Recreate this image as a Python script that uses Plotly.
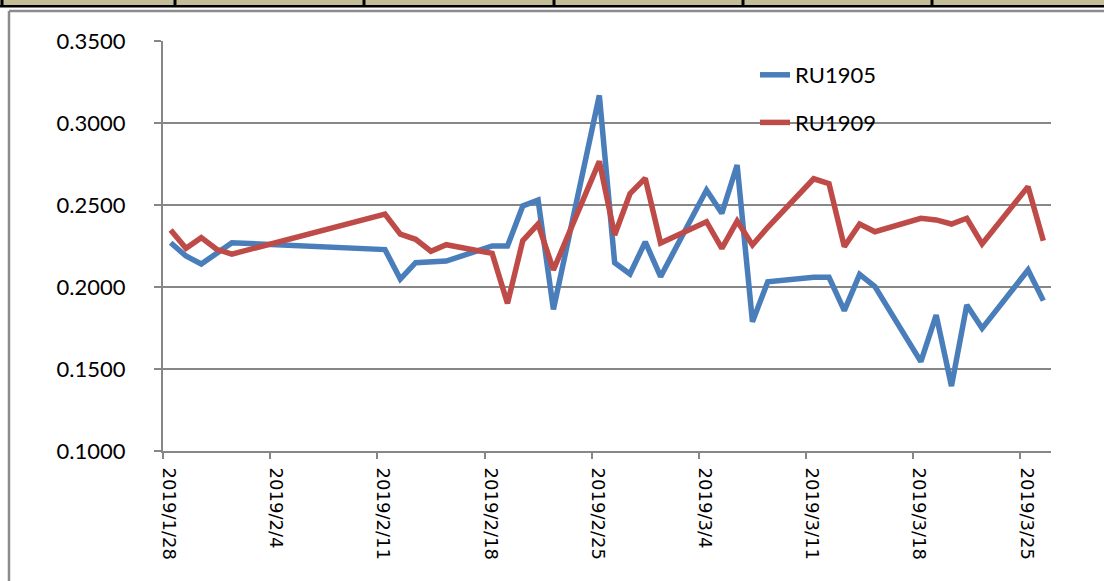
import pandas as pd
import plotly.graph_objects as go

# ---------------- data ----------------
dates = [
    "2019-01-28", "2019-01-29", "2019-01-30", "2019-01-31", "2019-02-01",
    "2019-02-11", "2019-02-12", "2019-02-13", "2019-02-14", "2019-02-15",
    "2019-02-18", "2019-02-19", "2019-02-20", "2019-02-21", "2019-02-22",
    "2019-02-25", "2019-02-26", "2019-02-27", "2019-02-28", "2019-03-01",
    "2019-03-04", "2019-03-05", "2019-03-06", "2019-03-07", "2019-03-08",
    "2019-03-11", "2019-03-12", "2019-03-13", "2019-03-14", "2019-03-15",
    "2019-03-18", "2019-03-19", "2019-03-20", "2019-03-21", "2019-03-22",
    "2019-03-25", "2019-03-26",
]
ru1905 = [
    0.2270, 0.2189, 0.2140, 0.2201, 0.2270,
    0.2228, 0.2048, 0.2148, 0.2152, 0.2158,
    0.2250, 0.2250, 0.2494, 0.2530, 0.1864,
    0.3168, 0.2148, 0.2079, 0.2275, 0.2063,
    0.2591, 0.2449, 0.2744, 0.1788, 0.2032,
    0.2059, 0.2059, 0.1856, 0.2077, 0.2002,
    0.1545, 0.1829, 0.1396, 0.1890, 0.1748,
    0.2104, 0.1917,
]
ru1909 = [
    0.2348, 0.2236, 0.2301, 0.2230, 0.2201,
    0.2444, 0.2322, 0.2291, 0.2218, 0.2258,
    0.2205, 0.1900, 0.2283, 0.2384, 0.2104,
    0.2766, 0.2317, 0.2569, 0.2663, 0.2268,
    0.2398, 0.2236, 0.2402, 0.2256, 0.2364,
    0.2660, 0.2630, 0.2246, 0.2384, 0.2337,
    0.2419, 0.2409, 0.2384, 0.2419, 0.2262,
    0.2612, 0.2282,
]
series_names = ["RU1905", "RU1909"]
series_colors = ["#4A7EBB", "#BE4B48"]

# Excel date axis places points in the middle of each day
x_vals = pd.to_datetime(dates) + pd.Timedelta(hours=12)

# ---------------- layout geometry (pixels) ----------------
W, H = 1104, 581
PL, PR, PT, PB = 163, 1051, 41, 451


def px(xp):
    return (xp - PL) / (PR - PL)


def py(yp):
    return (PB - yp) / (PB - PT)


fig = go.Figure()
for name, vals, col in zip(series_names, [ru1905, ru1909], series_colors):
    fig.add_trace(go.Scatter(
        x=x_vals, y=vals, mode="lines", name=name, legendgroup=name,
        line=dict(color=col, width=5.5),
    ))

grid_col = "#878787"
shapes = []
# spreadsheet header strip at the top
shapes.append(dict(type="rect", xref="paper", yref="paper",
                   x0=px(0), x1=px(W), y0=py(0), y1=py(5),
                   fillcolor="#C4BD97", line=dict(width=0), layer="below"))
shapes.append(dict(type="rect", xref="paper", yref="paper",
                   x0=px(0), x1=px(W), y0=py(5), y1=py(7.5),
                   fillcolor="#000000", line=dict(width=0), layer="below"))
for xd in [2, 175, 364, 554, 743, 932]:
    shapes.append(dict(type="rect", xref="paper", yref="paper",
                       x0=px(xd - 1.5), x1=px(xd + 1.5), y0=py(0), y1=py(7),
                       fillcolor="#000000", line=dict(width=0), layer="below"))
# chart area frame
shapes.append(dict(type="line", xref="paper", yref="paper",
                   x0=px(9), x1=px(W), y0=py(11), y1=py(11),
                   line=dict(color="#8C8C8C", width=2.5), layer="below"))
shapes.append(dict(type="line", xref="paper", yref="paper",
                   x0=px(9), x1=px(9), y0=py(11), y1=py(H),
                   line=dict(color="#8C8C8C", width=2.5), layer="below"))

fig.update_layout(
    width=W, height=H,
    margin=dict(l=PL, r=W - PR, t=PT, b=H - PB, pad=0),
    paper_bgcolor="white", plot_bgcolor="white",
    shapes=shapes,
    showlegend=True,
    legend=dict(
        x=px(755), y=py(54), xanchor="left", yanchor="top",
        font=dict(family="Lato", size=22, color="#000000"),
        bgcolor="rgba(0,0,0,0)", tracegroupgap=16, itemwidth=30,
    ),
    xaxis=dict(
        type="date",
        range=["2019-01-28", "2019-03-27"],
        tick0="2019-01-28", dtick=7 * 24 * 3600 * 1000,
        tickformat="%Y/%-m/%-d", tickangle=90,
        ticks="outside", ticklen=6, tickcolor=grid_col, tickwidth=1.5,
        ticklabelstandoff=5, ticklabelshift=6,
        showgrid=False, zeroline=False,
        showline=True, linecolor=grid_col, linewidth=2,
        tickfont=dict(family="DejaVu Sans", size=18, color="#000000"),
    ),
    yaxis=dict(
        range=[0.1, 0.35], dtick=0.05, tick0=0.1, tickformat=".4f",
        ticks="outside", ticklen=7, tickcolor=grid_col, tickwidth=1.5,
        ticklabelstandoff=24,
        showgrid=True, gridcolor=grid_col, gridwidth=2,
        zeroline=False,
        showline=True, linecolor=grid_col, linewidth=2,
        tickfont=dict(family="Lato", size=22, color="#000000"),
    ),
)
fig.write_html(
    "out.html",
    config={"displayModeBar": False},
    post_script="document.body.style.margin='0';document.body.style.overflow='hidden';",
)
